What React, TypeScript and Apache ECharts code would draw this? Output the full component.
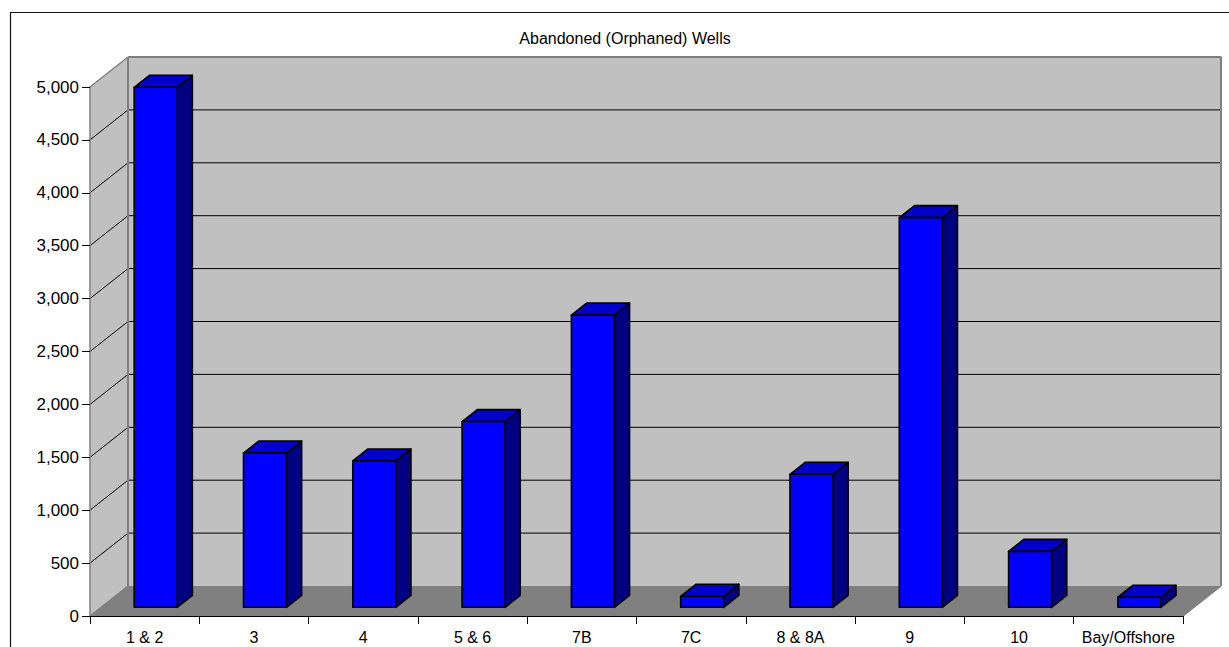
import React, { useEffect, useRef } from "react";
import * as echarts from "echarts";

const chartTitle = "Abandoned (Orphaned) Wells";
const categories = ["1 & 2", "3", "4", "5 & 6", "7B", "7C", "8 & 8A", "9", "10", "Bay/Offshore"];
const wells = [4915, 1458, 1383, 1755, 2762, 104, 1257, 3683, 529, 95];
const yTicks = [0, 500, 1000, 1500, 2000, 2500, 3000, 3500, 4000, 4500, 5000];

const FONT = '"Liberation Sans", Arial, sans-serif';
const DX = 38;
const DY = -30;
const F1 = 0.29;
const F2 = 0.69;
const BAR_W = 0.393;

export default function App() {
  const ref = useRef<HTMLDivElement>(null);
  useEffect(() => {
    document.body.style.margin = "0";
    const chart = echarts.init(ref.current!, null, { renderer: "svg" });
    const yMin = yTicks[0];
    const yMax = yTicks[yTicks.length - 1];
    const interval = yTicks[1] - yTicks[0];

    const wallsRender = (params: any, api: any) => {
      const cs = params.coordSys;
      const x0 = cs.x;
      const x1 = cs.x + cs.width;
      const yT = cs.y;
      const yB = cs.y + cs.height;
      const gray = "#808080";
      const children: any[] = [];
      children.push({
        type: "polygon",
        shape: { points: [[x0, yT], [x0 + DX, yT + DY], [x0 + DX, yB + DY], [x0, yB]] },
        style: { fill: "#C0C0C0", stroke: "none" },
      });
      children.push({
        type: "rect",
        shape: { x: x0 + DX, y: yT + DY, width: cs.width, height: cs.height },
        style: { fill: "#C0C0C0", stroke: "none" },
      });
      children.push({
        type: "polygon",
        shape: { points: [[x0, yB], [x0 + DX, yB + DY], [x1 + DX, yB + DY], [x1, yB]] },
        style: { fill: "#808080", stroke: "none" },
      });
      yTicks.forEach((v) => {
        if (v <= yMin || v >= yMax) return;
        const y = api.coord([0, v])[1];
        children.push({
          type: "line",
          shape: { x1: x0 + DX, y1: y + DY, x2: x1 + DX, y2: y + DY },
          style: { stroke: "#000", lineWidth: 1 },
        });
        children.push({
          type: "line",
          shape: { x1: x0, y1: y, x2: x0 + DX, y2: y + DY },
          style: { stroke: "#000", lineWidth: 1 },
        });
      });
      const edge = (ax: number, ay: number, bx: number, by: number, w = 2) =>
        children.push({
          type: "line",
          shape: { x1: ax, y1: ay, x2: bx, y2: by },
          style: { stroke: gray, lineWidth: w },
        });
      edge(x0 + DX, yT + DY, x1 + DX, yT + DY);
      edge(x0, yT, x0 + DX, yT + DY, 1.5);
      edge(x0 + DX, yT + DY, x0 + DX, yB + DY);
      edge(x1 + DX, yT + DY, x1 + DX, yB + DY);
      edge(x1, yB, x1 + DX, yB + DY, 1.5);
      edge(x0, yB, x0 + DX, yB + DY, 1.5);
      return { type: "group", children };
    };

    const barsRender = (params: any, api: any) => {
      const i = api.value(0);
      const v = api.value(1);
      const base = api.coord([i, 0]);
      const top = api.coord([i, v]);
      const band = api.size([1, 0])[0];
      const w = band * BAR_W;
      const fx = base[0] + F1 * DX - w / 2;
      const fb = base[1] + F1 * DY;
      const ft = top[1] + F1 * DY;
      const dx = (F2 - F1) * DX;
      const dy = (F2 - F1) * DY;
      const stroke = { stroke: "#000", lineWidth: 1.6, lineJoin: "round" };
      return {
        type: "group",
        children: [
          {
            type: "polygon",
            shape: { points: [[fx + w, ft], [fx + w + dx, ft + dy], [fx + w + dx, fb + dy], [fx + w, fb]] },
            style: { fill: "#000080", ...stroke },
          },
          {
            type: "polygon",
            shape: { points: [[fx, ft], [fx + dx, ft + dy], [fx + w + dx, ft + dy], [fx + w, ft]] },
            style: { fill: "#0000C8", ...stroke },
          },
          {
            type: "rect",
            shape: { x: fx, y: ft, width: w, height: fb - ft },
            style: { fill: "#0000FF", ...stroke },
          },
        ],
      };
    };

    chart.setOption({
      animation: false,
      backgroundColor: "#fff",
      textStyle: { fontFamily: FONT },
      graphic: [
        {
          type: "rect",
          shape: { x: 10.5, y: 12.5, width: 1400, height: 800 },
          style: { fill: "none", stroke: "#111", lineWidth: 1.2 },
          z: 100,
        },
        {
          type: "text",
          x: 625,
          y: 38,
          style: {
            text: chartTitle,
            font: `16px ${FONT}`,
            fill: "#000",
            align: "center",
            verticalAlign: "middle",
            textAlign: "center",
            textVerticalAlign: "middle",
          },
        },
      ],
      grid: { left: 90, right: 46, top: 87, bottom: 31, containLabel: false },
      xAxis: {
        type: "category",
        data: categories,
        z: 10,
        axisLine: { lineStyle: { color: "#000", width: 1 } },
        axisTick: { show: true, length: 8, lineStyle: { color: "#000" } },
        axisLabel: { color: "#000", fontSize: 16, margin: 13, fontFamily: FONT, interval: 0 },
        splitLine: { show: false },
      },
      yAxis: {
        type: "value",
        min: yMin,
        max: yMax,
        interval,
        z: 10,
        axisLine: { show: true, lineStyle: { color: "#808080", width: 1.5 } },
        axisTick: { show: true, length: 8, lineStyle: { color: "#000" } },
        axisLabel: {
          color: "#000",
          fontSize: 17,
          margin: 11,
          fontFamily: FONT,
          formatter: (val: number) => val.toLocaleString("en-US"),
        },
        splitLine: { show: false },
      },
      series: [
        {
          type: "custom",
          name: "walls",
          z: 1,
          clip: false,
          silent: true,
          renderItem: wallsRender,
          data: [[0, 0]],
        },
        {
          type: "custom",
          name: "Abandoned wells",
          z: 3,
          clip: false,
          renderItem: barsRender,
          encode: { x: 0, y: 1 },
          data: wells.map((v, i) => [i, v]),
        },
      ],
    });
    return () => chart.dispose();
  }, []);
  return <div ref={ref} style={{ width: 1229, height: 647 }} />;
}
